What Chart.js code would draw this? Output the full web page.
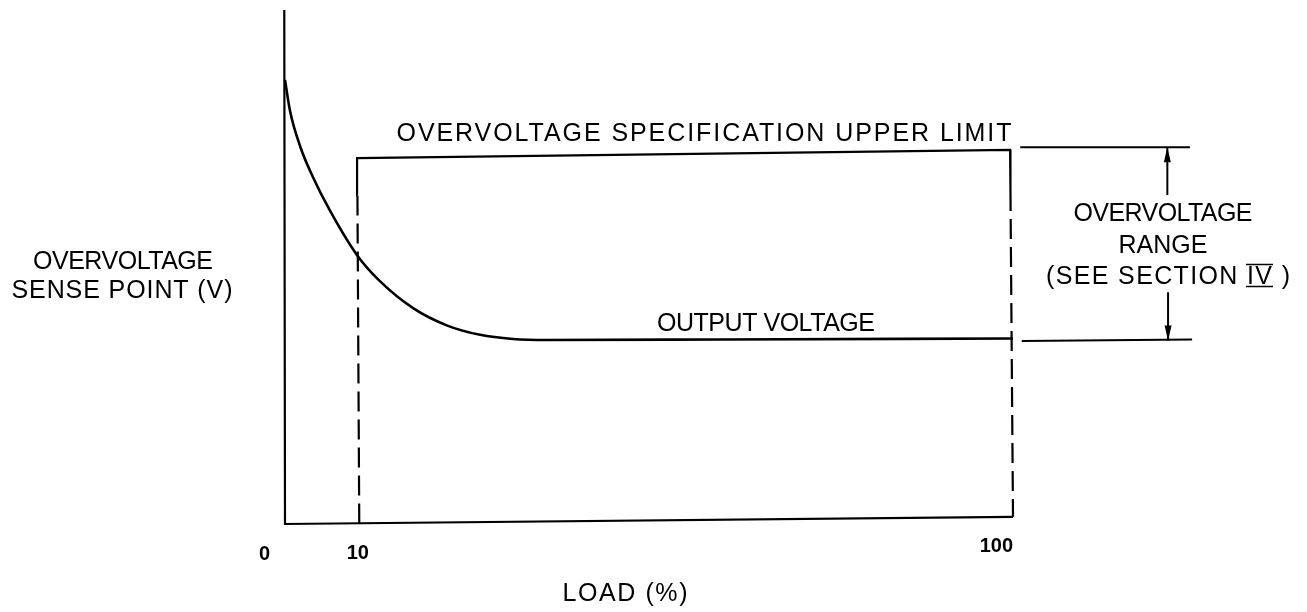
<!DOCTYPE html>
<html lang="en">
<head>
<meta charset="UTF-8" />
<title>Overvoltage sense point vs load</title>
<script src="https://cdn.jsdelivr.net/npm/chart.js"></script>
<style>
  html, body { margin: 0; padding: 0; background: #fff; }
  canvas { display: block; }
</style>
</head>
<body>
<canvas id="chart" width="1307" height="612"></canvas>
<script>
// load (%) ticks on the x axis
const xTicks = [0, 10, 100];

// axis frame (left and bottom), drawn as a line
const axisX = [-0.1, 0, 100];
const axisY = [100, 0, 1.4];

// output voltage curve
const curveX = [0, 0.7, 2.1, 3.8, 6.2, 9.9, 13.0, 17.6, 22.3, 26.8, 31.3, 36.0, 60, 100];
const curveY = [86.4, 80.3, 73.4, 67.6, 60.9, 52.3, 47.3, 42.0, 38.6, 36.8, 36.0, 35.8, 35.9, 36.1];

// overvoltage specification upper limit box (10% .. 100%)
const limitX = [10.2, 9.95, 9.9, 99.6, 99.65, 100];
const limitY = [0.1, 64.0, 71.2, 72.8, 64.8, 1.4];

// overvoltage range dimension lines and arrows
const rangeTopX = [101.0, 124.3];
const rangeTopY = [73.3, 73.3];
const rangeBotX = [101.2, 124.6];
const rangeBotY = [35.6, 35.9];
const arrowUpX = [121.2, 121.2];
const arrowUpY = [64.0, 73.3];
const arrowDownX = [121.3, 121.3];
const arrowDownY = [45.1, 35.7];

const pts = (xs, ys) => xs.map((x, i) => ({ x: x, y: ys[i] }));

function lineSet(xs, ys, width, extra) {
  return Object.assign({
    data: pts(xs, ys),
    borderColor: '#000',
    borderWidth: width,
    pointRadius: 0,
    fill: false,
    tension: 0,
    clip: false
  }, extra || {});
}

const FONT = '"Liberation Sans", Arial, sans-serif';

// text labels (pixel centre, target width; no width = natural)
const labels = [
  { t: 'OVERVOLTAGE SPECIFICATION UPPER LIMIT', cx: 704, cy: 132, w: 615 },
  { t: 'OVERVOLTAGE', cx: 123, cy: 260, w: 180 },
  { t: 'SENSE POINT (V)', cx: 122, cy: 289, w: 221 },
  { t: 'OUTPUT VOLTAGE', cx: 766, cy: 322, w: 218 },
  { t: 'OVERVOLTAGE', cx: 1163, cy: 212, w: 179 },
  { t: 'RANGE', cx: 1163, cy: 244 },
  { t: '(SEE SECTION IV )', cx: 1168, cy: 275, w: 244, roman: 'IV' },
  { t: 'LOAD (%)', cx: 625, cy: 592, w: 125 }
];

function drawFitted(ctx, lb, size) {
  ctx.font = size + 'px ' + FONT;
  ctx.letterSpacing = '0px';
  const w0 = ctx.measureText(lb.t).width;
  const w = lb.w || w0;
  const ls = (w - w0) / (lb.t.length - 1);
  ctx.letterSpacing = ls + 'px';
  const left = lb.cx - w / 2;
  const base = lb.cy + size * 0.716 / 2;
  ctx.textAlign = 'left';
  ctx.textBaseline = 'alphabetic';
  ctx.fillText(lb.t, left, base);
  if (lb.roman) {
    const idx = lb.t.indexOf(lb.roman);
    const x0 = left + ctx.measureText(lb.t.slice(0, idx)).width - 1;
    const x1 = x0 + ctx.measureText(lb.roman).width - ls + 2;
    const capTop = base - size * 0.716;
    ctx.lineWidth = 1.6;
    ctx.beginPath();
    ctx.moveTo(x0, capTop - 1.5); ctx.lineTo(x1, capTop - 1.5);
    ctx.moveTo(x0, base + 2.5); ctx.lineTo(x1, base + 2.5);
    ctx.stroke();
  }
}

const drawingPlugin = {
  id: 'drawing',
  afterDatasetsDraw(chart) {
    const ctx = chart.ctx;
    const xs = chart.scales.x, ys = chart.scales.y;
    ctx.save();
    ctx.fillStyle = '#000';
    ctx.strokeStyle = '#000';

    // arrowheads at the end of the range arrows
    chart.data.datasets.forEach((ds, i) => {
      if (!ds.arrow) return;
      const p = chart.getDatasetMeta(i).data;
      const a = p[p.length - 2], b = p[p.length - 1];
      const ang = Math.atan2(b.y - a.y, b.x - a.x);
      const len = 15, half = 3.5;
      ctx.beginPath();
      ctx.moveTo(b.x, b.y);
      ctx.lineTo(b.x - len * Math.cos(ang) + half * Math.sin(ang), b.y - len * Math.sin(ang) - half * Math.cos(ang));
      ctx.lineTo(b.x - len * Math.cos(ang) - half * Math.sin(ang), b.y - len * Math.sin(ang) + half * Math.cos(ang));
      ctx.closePath();
      ctx.fill();
    });

    // x tick labels, under the bottom line
    ctx.font = 'bold 20px ' + FONT;
    ctx.letterSpacing = '0px';
    ctx.textBaseline = 'middle';
    xTicks.forEach(v => {
      const bottom = axisY[1] + (axisY[2] - axisY[1]) * v / 100;
      const py = ys.getPixelForValue(bottom) + 30;
      let px = xs.getPixelForValue(v);
      if (v === 0) { ctx.textAlign = 'right'; px -= 15; }
      else if (v === 100) { ctx.textAlign = 'right'; }
      else { ctx.textAlign = 'center'; }
      ctx.fillText(String(v), px, py);
    });

    labels.forEach(lb => drawFitted(ctx, lb, 25));
    ctx.restore();
  }
};

new Chart(document.getElementById('chart'), {
  type: 'line',
  data: {
    datasets: [
      lineSet(axisX, axisY, 2.2),
      lineSet(curveX, curveY, 2.6, { cubicInterpolationMode: 'monotone' }),
      lineSet(limitX, limitY, 2.2, {
        segment: {
          borderDash: c => (c.p0DataIndex === 0 || c.p0DataIndex === 4) ? [20, 8] : []
        }
      }),
      lineSet(rangeTopX, rangeTopY, 2),
      lineSet(rangeBotX, rangeBotY, 2),
      lineSet(arrowUpX, arrowUpY, 2, { arrow: true }),
      lineSet(arrowDownX, arrowDownY, 2, { arrow: true })
    ]
  },
  options: {
    responsive: false,
    animation: false,
    devicePixelRatio: 1,
    layout: { padding: { left: 285, right: 294, top: 10, bottom: 88 } },
    plugins: { legend: { display: false }, tooltip: { enabled: false } },
    scales: {
      x: { type: 'linear', min: 0, max: 100, display: false },
      y: { type: 'linear', min: 0, max: 100, display: false }
    }
  },
  plugins: [drawingPlugin]
});
</script>
</body>
</html>
